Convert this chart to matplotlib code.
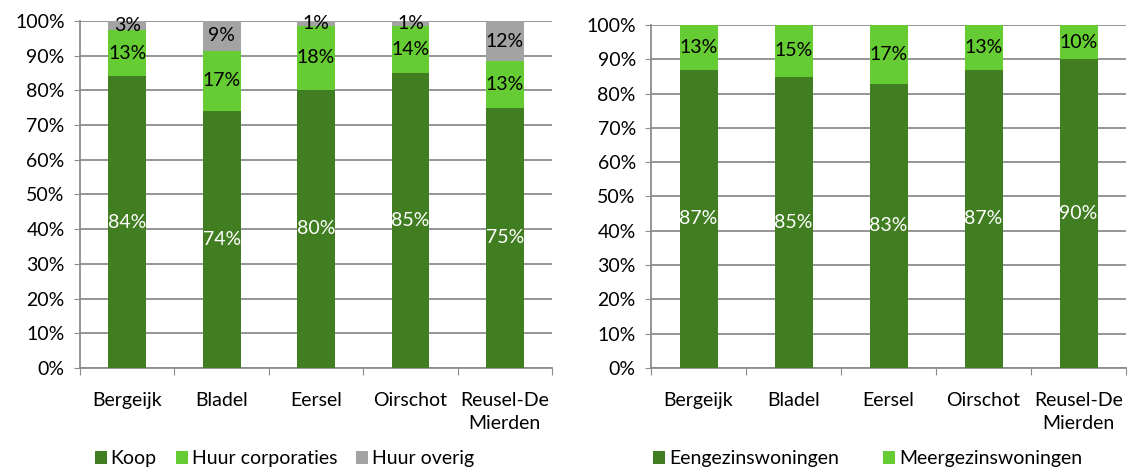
import matplotlib
matplotlib.use("Agg")
import matplotlib.pyplot as plt
import numpy as np

plt.rcParams['font.family'] = ['Lato', 'DejaVu Sans']

gemeenten = ["Bergeijk", "Bladel", "Eersel", "Oirschot", "Reusel-De\nMierden"]

# eigendom (links)
koop = [84.1, 74.1, 80.1, 85.1, 75.0]
huur_corp = [13.3, 17.3, 18.5, 13.5, 13.4]
huur_overig = [2.6, 8.6, 1.4, 1.4, 11.6]

# woningtype (rechts)
eengezins = [87.0, 84.9, 82.9, 87.0, 90.0]
meergezins = [13.0, 15.1, 17.1, 13.0, 10.0]

donkergroen = "#417E22"
lichtgroen = "#66CC33"
grijs = "#A3A3A3"
lijn = "#8C8C8C"
fs = 14

fig = plt.figure(figsize=(11.35, 4.69), dpi=100)
ax1 = fig.add_axes([0.0705, 0.2154, 0.4159, 0.7399])
ax2 = fig.add_axes([0.5736, 0.2154, 0.4185, 0.7313])


def stapel(ax, reeksen, kleuren, tekstkleuren, namen):
    x = np.arange(len(gemeenten))
    onder = np.zeros(len(gemeenten))
    for vals, kl, tk, nm in zip(reeksen, kleuren, tekstkleuren, namen):
        vals = np.array(vals)
        ax.bar(x, vals, 0.4, bottom=onder, color=kl, label=nm, zorder=3)
        for xi, b, v in zip(x, onder, vals):
            ax.text(xi, b + v / 2, f"{v:.0f}%", ha="center", va="center",
                    color=tk, fontsize=fs, zorder=4)
        onder = onder + vals
    ax.set_xlim(-0.5, len(gemeenten) - 0.5)
    ax.set_ylim(0, 100)
    ax.set_yticks(np.arange(0, 101, 10))
    ax.set_yticklabels([f"{v}%" for v in range(0, 101, 10)], fontsize=fs)
    ax.yaxis.grid(True, color=lijn, linewidth=1.3, zorder=0)
    ax.set_xticks(np.arange(-0.5, len(gemeenten)), minor=False)
    ax.set_xticklabels([])
    ax.set_xticks(x, minor=True)
    ax.set_xticklabels(gemeenten, minor=True, fontsize=fs, linespacing=1.45)
    ax.tick_params(axis="x", which="minor", length=0, pad=17)
    ax.tick_params(axis="x", which="major", length=5, color=lijn)
    ax.tick_params(axis="y", length=4, color=lijn, pad=7)
    for s in ["top", "right"]:
        ax.spines[s].set_visible(False)
    for s in ["left", "bottom"]:
        ax.spines[s].set_color(lijn)
        ax.spines[s].set_linewidth(1.3)


stapel(ax1, [koop, huur_corp, huur_overig], [donkergroen, lichtgroen, grijs],
       ["white", "black", "black"], ["Koop", "Huur corporaties", "Huur overig"])
stapel(ax2, [eengezins, meergezins], [donkergroen, lichtgroen],
       ["white", "black"], ["Eengezinswoningen", "Meergezinswoningen"])

for ax, xpos, sp in [(ax1, 0.075, 1.0), (ax2, 0.567, 2.3)]:
    ax.legend(loc="center left", bbox_to_anchor=(xpos, 0.022), bbox_transform=fig.transFigure,
              ncol=3, frameon=False, fontsize=fs, handlelength=0.6, handleheight=0.6,
              handletextpad=0.2, columnspacing=sp, borderpad=0)

fig.savefig("out.png", dpi=100)
